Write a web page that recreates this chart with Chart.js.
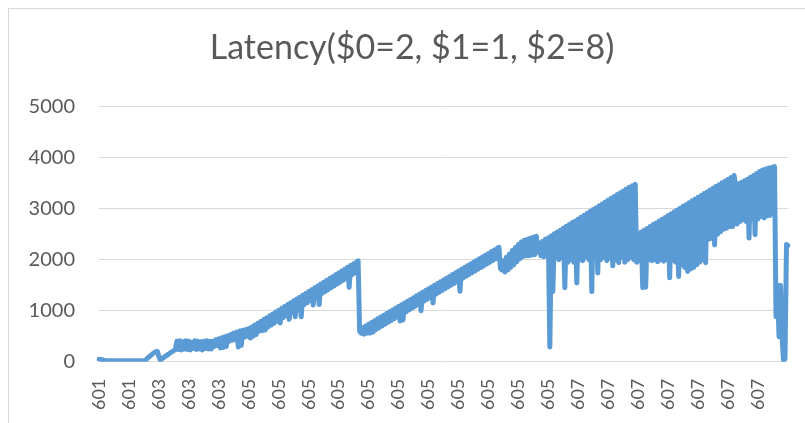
<!DOCTYPE html>
<html><head><meta charset="utf-8">
<script src="https://cdn.jsdelivr.net/npm/chart.js@4"></script>
<style>
html,body{margin:0;padding:0;background:#fff;}
#wrap{position:relative;width:805px;height:423px;overflow:hidden;}
#frame{position:absolute;left:8px;top:8px;right:-2px;bottom:-2px;border-left:1px solid #d9d9d9;border-top:1px solid #d9d9d9;pointer-events:none;}
canvas{position:absolute;left:0;top:0;}
</style></head><body>
<div id="wrap"><canvas id="c" width="805" height="423"></canvas><div id="frame"></div></div>
<script>
const chartTitle = 'Latency($0=2, $1=1, $2=8)';
const tickLabels = ['601','601','603','603','603','605','605','605','605','605','605','605','605','605','605','605','607','607','607','607','607','607','607'];
const pointsPerTick = 20;
const latency = [
50,45,40,30,20,20,20,20,20,20,20,20,20,20,20,20,20,20,20,20,20,20,20,20,20,20,20,20,20,20,20,20,
60,85,110,135,160,180,200,200,100,30,60,80,100,120,140,160,180,200,220,240,
400,240,410,230,390,250,410,240,400,230,380,260,410,240,400,250,390,230,400,260,410,250,400,250,
400,300,430,320,450,270,470,280,490,300,510,400,535,420,560,430,580,290,600,320,615,480,630,500,
650,463,682,500,718,535,754,600,790,609,
827,620,864,682,900,718,937,755,973,792,
1010,760,1047,864,1083,901,1120,830,1156,975,
1193,880,1229,1048,1266,880,1302,1121,1339,1157,
1376,1194,1412,1110,1449,1267,1485,1120,1522,1340,
1558,1376,1595,1413,1631,1450,1668,1486,1704,1523,
1741,1559,1777,1596,1814,1632,1850,1460,1887,1705,
1923,1741,1960,1978,600,
560,666,540,701,560,735,560,770,580,805,
632,840,667,874,702,909,736,944,771,979,
806,1013,841,1048,875,1083,800,1117,820,1152,
979,1187,1014,1221,1049,1256,1084,1291,1118,1326,
1000,1360,1188,1395,1222,1430,1257,1465,1150,1499,
1327,1534,1361,1569,1396,1603,1431,1638,1466,1673,
1500,1708,1535,1742,1570,1777,1380,1812,1639,1846,
1674,1881,1708,1916,1743,1950,1778,1985,1813,2020,
1847,2055,1882,2089,1917,2124,1951,2159,1986,2193,
2021,2228,2245,1830,
1800,1980,1760,2050,1800,2110,1850,2180,1900,2240,
1960,2300,2020,2350,2060,2380,2080,2400,2080,2420,
2090,2440,2100,2460,2150,
2330,2080,2360,2060,2400,2100,2430,290,2470,1375,
2510,2050,2545,2000,2580,2050,2620,1450,2655,1950,
2690,2000,2730,1950,2760,1545,2800,2000,2840,1980,
2875,2050,2910,2000,2950,1375,2985,2020,3020,1740,
3060,2000,3095,2050,3135,1980,3170,2030,3205,1880,
3240,2000,3280,1940,3315,2050,3350,1950,3390,2000,
3420,2050,3450,2000,3480,1950,
2510,1980,2545,1450,2580,1460,2615,2000,2650,1980,
2690,2000,2720,1960,2760,2000,2795,1970,2830,2000,
2870,1645,2900,1990,2940,1950,2975,1670,3010,1900,
3050,1850,3080,1770,3120,1820,3155,1850,3190,1900,
3225,1950,3260,2000,3300,1940,3330,2400,3370,2420,
3400,2290,3440,2500,3470,2550,3510,2600,3545,2620,
3580,2650,3615,2650,3650,3460,2700,3490,2750,3520,
2780,3550,2750,3580,2425,3620,2800,3650,2490,3690,
2800,3730,2850,3760,2820,3780,2860,3800,2870,3810,
2900,3830,
880,1500,490,1500,500,30,60,2300,2280
];
const categories = latency.map((_, i) => tickLabels[Math.min(Math.floor(i / pointsPerTick), tickLabels.length - 1)]);

const titleShift = {
  id: 'titleShift',
  afterLayout(chart) {
    const t = chart.titleBlock;
    if (t) { t.left += 18; t.right += 18; }
  }
};

new Chart(document.getElementById('c'), {
  type: 'line',
  data: {
    labels: categories,
    datasets: [{
      data: latency,
      borderColor: '#5b9bd5',
      borderWidth: 5,
      pointRadius: 0,
      tension: 0,
      fill: false,
      borderCapStyle: 'round',
      borderJoinStyle: 'round'
    }]
  },
  plugins: [titleShift],
  options: {
    responsive: false,
    animation: false,
    layout: { padding: { left: 0, right: 17, top: 0, bottom: 0 } },
    plugins: {
      legend: { display: false },
      tooltip: { enabled: false },
      title: {
        display: true,
        text: chartTitle,
        color: '#595959',
        font: { family: 'Lato', size: 34, weight: 'normal' },
        padding: { top: 28, bottom: 38 }
      }
    },
    scales: {
      x: {
        grid: { display: false },
        border: { display: false },
        ticks: {
          autoSkip: false, maxRotation: 90, minRotation: 90, padding: 9,
          color: '#595959', font: { family: 'Lato', size: 18 },
          callback: (v, i) => (i % pointsPerTick === 0 && i / pointsPerTick < tickLabels.length ? categories[i] : null)
        },
        afterFit: s => { s.height = 61.3; }
      },
      y: {
        min: 0, max: 5000,
        ticks: { stepSize: 1000, padding: 24, color: '#595959', font: { family: 'Lato', size: 20 }, callback: v => String(v) },
        grid: { color: '#d9d9d9', drawTicks: false, lineWidth: 1 },
        border: { display: false },
        afterFit: s => { s.width = 99; }
      }
    }
  }
});
</script>
</body></html>
